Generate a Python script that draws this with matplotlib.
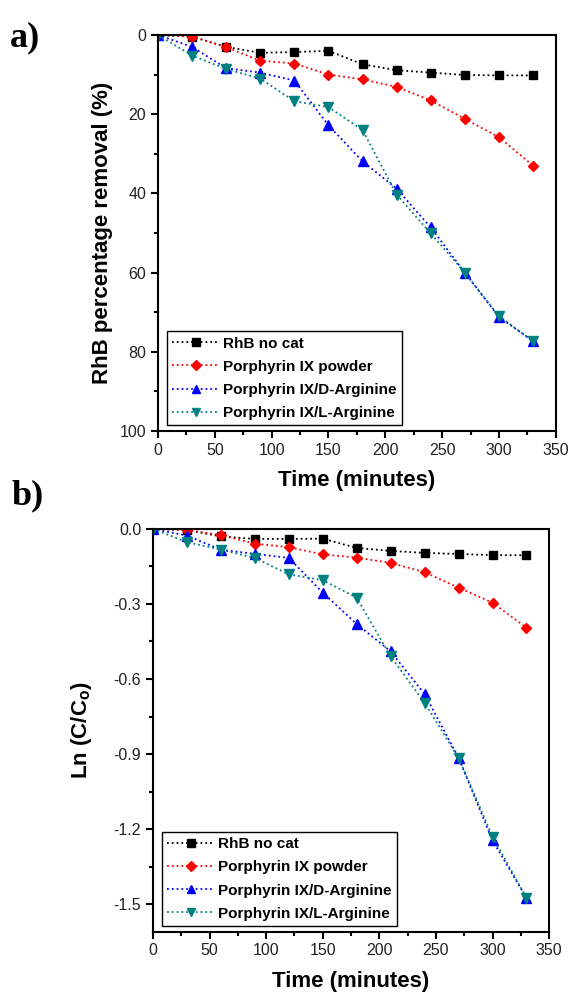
#!/usr/bin/env python3
# -*- coding: utf-8 -*-
"""RhB removal over time: percentage removal (a) and Ln(C/Co) (b)."""

import matplotlib
matplotlib.use('Agg')
import matplotlib.pyplot as plt
from matplotlib.ticker import MultipleLocator, FuncFormatter

# time points (minutes)
time_min = [0, 30, 60, 90, 120, 150, 180, 210, 240, 270, 300, 330]

series_names = ['RhB no cat', 'Porphyrin IX powder',
                'Porphyrin IX/D-Arginine', 'Porphyrin IX/L-Arginine']

# panel a: percentage removal (%)
removal_nocat = [0, 0.4, 3.0, 4.5, 4.3, 4.0, 7.4, 8.9, 9.5, 10.1, 10.2, 10.2]
removal_powder = [0, 0.4, 3.1, 6.5, 7.2, 10.0, 11.2, 13.1, 16.5, 21.2, 25.8, 33.0]
removal_darg = [0, 3.0, 8.4, 9.5, 11.5, 22.8, 31.9, 38.8, 48.6, 60.0, 71.2, 77.3]
removal_larg = [0, 5.2, 8.6, 11.0, 16.7, 18.2, 24.0, 40.3, 50.1, 60.0, 71.0, 77.3]

# panel b: Ln(C/Co)
ln_nocat = [0, -0.005, -0.030, -0.040, -0.040, -0.039, -0.076, -0.088, -0.096, -0.100, -0.105, -0.105]
ln_powder = [0, -0.004, -0.025, -0.059, -0.073, -0.102, -0.115, -0.136, -0.173, -0.235, -0.295, -0.395]
ln_darg = [0, -0.027, -0.083, -0.100, -0.116, -0.255, -0.380, -0.490, -0.660, -0.915, -1.245, -1.475]
ln_larg = [0, -0.053, -0.083, -0.116, -0.182, -0.205, -0.275, -0.510, -0.695, -0.915, -1.230, -1.475]

colors = ['#000000', '#ff0000', '#0000ff', '#008080']
markers = ['s', 'D', '^', 'v']
msizes = [6, 5.5, 7.5, 7.5]

plt.rcParams['font.family'] = ['Liberation Sans', 'DejaVu Sans']


def style_axes(ax, xlabelpad):
    for sp in ax.spines.values():
        sp.set_linewidth(1.5)
    ax.tick_params(axis='both', which='both', direction='out', width=1.5,
                   top=False, right=False, labelsize=11.5, labelcolor='#222222')
    ax.tick_params(axis='both', which='major', length=5)
    ax.tick_params(axis='both', which='minor', length=3)
    ax.xaxis.set_major_locator(MultipleLocator(50))
    ax.xaxis.set_minor_locator(MultipleLocator(25))
    ax.set_xlim(0, 350)
    ax.set_xlabel('Time (minutes)', fontsize=16, fontweight='bold', labelpad=xlabelpad)


def draw_series(ax, data):
    for ys, name, c, m, ms in zip(data, series_names, colors, markers, msizes):
        ax.plot(time_min, ys, linestyle=':', color=c, marker=m, markersize=ms,
                linewidth=1.3, label=name)
    leg = ax.legend(loc='lower left', bbox_to_anchor=(0.022, 0.014),
                    borderaxespad=0, fancybox=False, edgecolor='black',
                    framealpha=1, handlelength=3.1, handletextpad=0.25,
                    labelspacing=0.6, borderpad=0.35, markerscale=0.85,
                    prop={'weight': 'bold', 'size': 11})
    leg.get_frame().set_linewidth(1.0)


fig = plt.figure(figsize=(5.74, 9.94), dpi=100)

# panel a
ax1 = fig.add_axes([0.2752, 0.5664, 0.6930, 0.3984])
draw_series(ax1, [removal_nocat, removal_powder, removal_darg, removal_larg])
ax1.set_ylim(100, 0)
ax1.yaxis.set_major_locator(MultipleLocator(20))
ax1.yaxis.set_minor_locator(MultipleLocator(10))
style_axes(ax1, 9)
ax1.set_ylabel('RhB percentage removal (%)', fontsize=16, fontweight='bold', labelpad=5)

# panel b
ax2 = fig.add_axes([0.2666, 0.0627, 0.6900, 0.4052])
draw_series(ax2, [ln_nocat, ln_powder, ln_darg, ln_larg])
ax2.set_ylim(-1.61, 0)
ax2.yaxis.set_major_locator(MultipleLocator(0.3))
ax2.yaxis.set_minor_locator(MultipleLocator(0.15))
ax2.yaxis.set_major_formatter(FuncFormatter(lambda v, p: '%.1f' % (v + 0.0 if abs(v) > 1e-9 else 0.0)))
style_axes(ax2, 9)
ax2.set_ylabel(r'Ln (C/C$_{\mathregular{o}}$)', fontsize=16, fontweight='bold', labelpad=14)

# panel letters
fig.text(0.017, 0.962, 'a)', fontsize=26, fontweight='bold',
         family=['Liberation Serif', 'DejaVu Serif'], va='center')
fig.text(0.021, 0.501, 'b)', fontsize=26, fontweight='bold',
         family=['Liberation Serif', 'DejaVu Serif'], va='center')

fig.savefig('out.png', dpi=100)
